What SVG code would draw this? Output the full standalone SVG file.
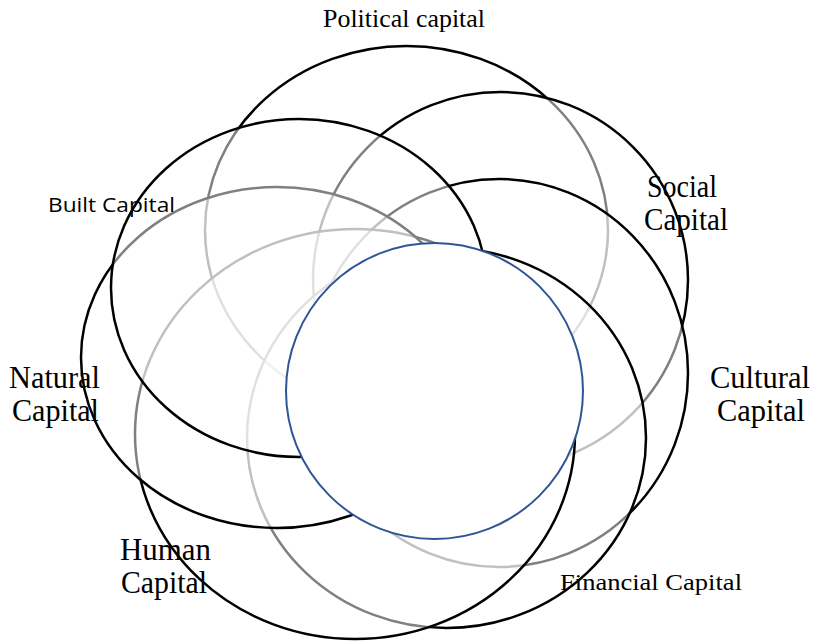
<svg xmlns="http://www.w3.org/2000/svg" width="815" height="642" viewBox="0 0 815 642">
<style>
.ring{fill:#ffffff;fill-opacity:0.5;stroke:#000000;stroke-width:2.5}
.core{fill:#ffffff;stroke:#2F5597;stroke-width:2}
.serif{font-family:"Liberation Serif","Times New Roman",serif;fill:#000000}
.big{font-size:31px}
.sans{font-family:"Open Sans","Liberation Sans",sans-serif;fill:#000000}
</style>
<rect width="815" height="642" fill="#ffffff"/>
<g id="political">
<ellipse class="ring" cx="406.5" cy="230" rx="201.5" ry="184"/>
<text class="serif" x="323" y="27" font-size="25.5" textLength="162" lengthAdjust="spacingAndGlyphs">Political capital</text>
</g>
<g id="social">
<ellipse class="ring" cx="500.5" cy="280" rx="187.5" ry="188"/>
<text class="serif big" x="647" y="197" textLength="70" lengthAdjust="spacingAndGlyphs">Social</text>
<text class="serif big" x="644" y="230" textLength="84" lengthAdjust="spacingAndGlyphs">Capital</text>
</g>
<g id="cultural">
<ellipse class="ring" cx="499" cy="373" rx="189" ry="194"/>
<text class="serif big" x="710" y="388" textLength="100" lengthAdjust="spacingAndGlyphs">Cultural</text>
<text class="serif big" x="717" y="421" textLength="88" lengthAdjust="spacingAndGlyphs">Capital</text>
</g>
<g id="financial">
<ellipse class="ring" cx="446.5" cy="438" rx="199.5" ry="190"/>
<text class="serif" x="560" y="590" font-size="24" textLength="182" lengthAdjust="spacingAndGlyphs">Financial Capital</text>
</g>
<g id="human">
<ellipse class="ring" cx="355" cy="434" rx="220" ry="205"/>
<text class="serif big" x="120" y="560" textLength="91" lengthAdjust="spacingAndGlyphs">Human</text>
<text class="serif big" x="121" y="593" textLength="86" lengthAdjust="spacingAndGlyphs">Capital</text>
</g>
<g id="natural">
<ellipse class="ring" cx="277" cy="357.5" rx="196" ry="170.5"/>
<text class="serif big" x="9" y="388" textLength="91" lengthAdjust="spacingAndGlyphs">Natural</text>
<text class="serif big" x="12" y="421" textLength="87" lengthAdjust="spacingAndGlyphs">Capital</text>
</g>
<g id="built">
<ellipse class="ring" cx="299" cy="288" rx="188" ry="169"/>
<text class="sans" x="48" y="212" font-size="20" textLength="127" lengthAdjust="spacingAndGlyphs">Built Capital</text>
</g>
<g id="core">
<ellipse class="core" cx="434.5" cy="391" rx="148.5" ry="148"/>
</g>
</svg>
